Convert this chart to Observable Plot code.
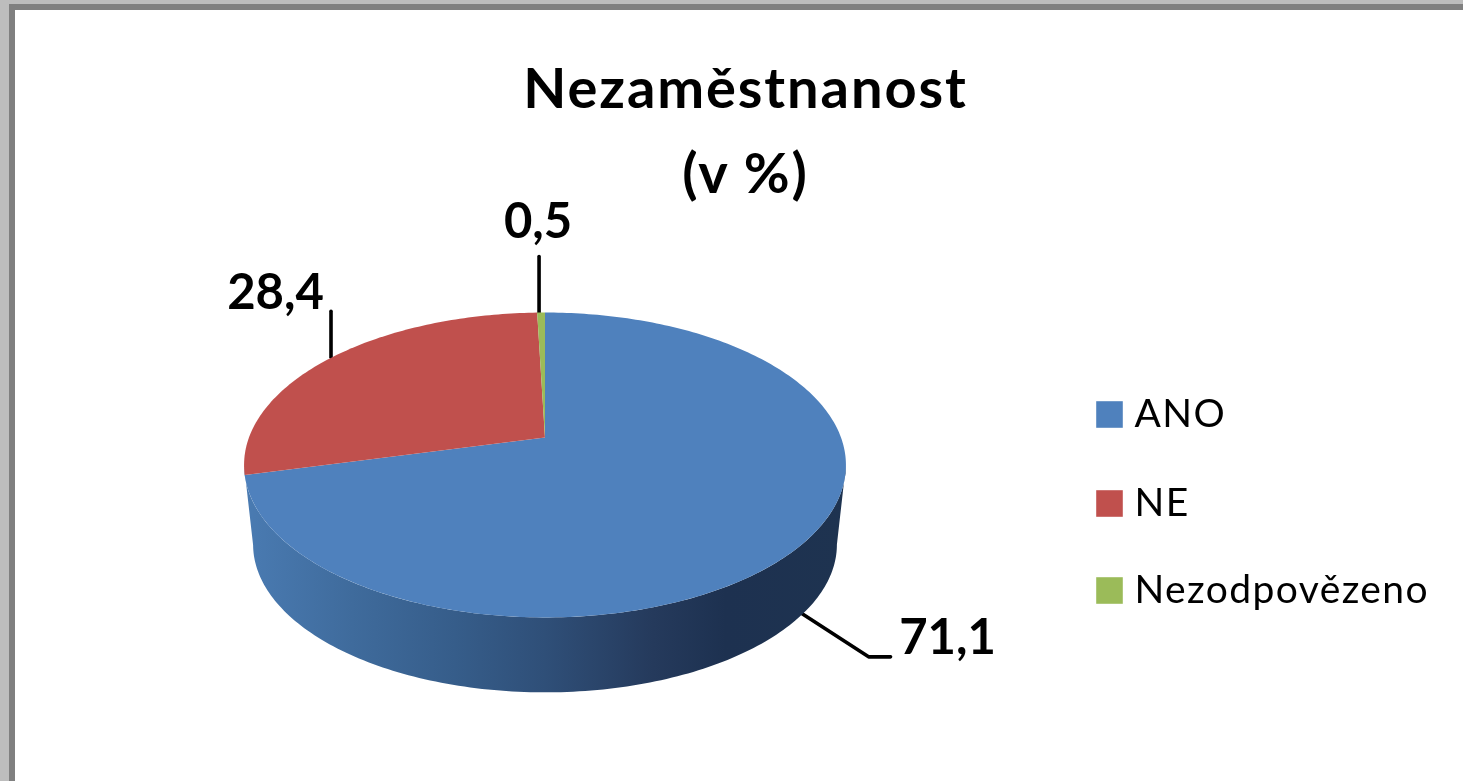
<!DOCTYPE html>
<html lang="cs">
<head>
<meta charset="utf-8">
<script src="https://cdn.jsdelivr.net/npm/d3@7"></script>
<script src="https://cdn.jsdelivr.net/npm/@observablehq/plot@0.6"></script>
<style>
  html, body { margin: 0; padding: 0; background: #bdbdbd; overflow: hidden; }
  #frame { position: absolute; left: 9px; top: 4px; right: 0; bottom: 0; background: #fff;
           border-left: 6px solid #808080; border-top: 6px solid #808080; }
  #chart { position: absolute; left: 0; top: 0; }
  #chart svg { display: block; filter: blur(0.7px); }
  .chart-title text { letter-spacing: 1.9px; }
  .legend-label text { letter-spacing: 1.4px; }
</style>
</head>
<body>
<div id="frame"></div>
<div id="chart"></div>
<script>
// Data
const categories = ["ANO", "NE", "Nezodpovězeno"];
const shares = [71.1, 28.4, 0.5];
const colors = ["#4f81bd", "#c0504d", "#9bbb59"];
const chartTitle = ["Nezaměstnanost", "(v %)"];

// Pie projection (tilted disc with perspective)
const W = 1463, H = 781;
const cx = 544.5, apexY = 437, persp = 0.1803, tiltA = -68.7, radius = 296;
const depthScale = 0.97, rimCentreY = 464.5, baseCentreY = 544;

const project = (deg) => {
  const t = deg * Math.PI / 180, u = Math.sin(t), v = Math.cos(t), d = 1 + persp * v;
  return { x: cx + radius * u / d, y: (tiltA * v + apexY) / d };
};
const projectBase = (deg) => {
  const p = project(deg);
  return { x: cx + depthScale * (p.x - cx), y: baseCentreY + depthScale * (p.y - rimCentreY) };
};

// Slices, from the shares
let running = 0;
const slices = categories.map((name, i) => {
  const start = running * 3.6;
  running += shares[i];
  return { name, value: shares[i], start, end: running * 3.6, mid: (start + running * 3.6) / 2 };
});
const sliceRows = slices.flatMap((s) => {
  const n = Math.max(2, Math.ceil(s.end - s.start));
  const arc = d3.range(n + 1).map((k) => project(s.start + (s.end - s.start) * k / n));
  return [{ x: cx, y: apexY }, ...arc].map((p) => ({ ...p, name: s.name }));
});

// Visible rim of the disc, between its two widest points
const rimStart = Math.acos(-persp) * 180 / Math.PI, rimEnd = 360 - rimStart;
const rimAngles = d3.range(rimStart, rimEnd + 0.5, 1);
const sideRows = [...rimAngles.map(project), ...rimAngles.slice().reverse().map(projectBase)];

// Value labels with leader lines, relative to the slice's rim midpoint
const labelStyle = [
  { base: true, bend: [[-2, -6], [69, 40], [91, 40]], dx: 148, dy: 21 },
  { base: false, bend: [[-1, 0], [-1, -46]], dx: -56.5, dy: -64 },
  { base: false, bend: [[-2, 0], [-2, -56]], dx: -3, dy: -90 }
];
const anchors = slices.map((s, i) => (labelStyle[i].base ? projectBase : project)(s.mid));
const leaderRows = anchors.flatMap((a, i) =>
  labelStyle[i].bend.map(([dx, dy]) => ({ i, x: a.x + dx, y: a.y + dy })));
const labelRows = anchors.map((a, i) => ({
  x: a.x + labelStyle[i].dx,
  y: a.y + labelStyle[i].dy,
  text: String(slices[i].value).replace(".", ",")
}));

// Legend rows
const legendRows = categories.map((name, i) => ({ name, y: [414, 503, 590][i] }));
const legendX = 1109;

const shade = () => {
  const defs = d3.create("svg:defs");
  const g = defs.append("svg:linearGradient").attr("id", "sideShade");
  [[0, "#4a7bb2"], [0.18, "#3f6b9c"], [0.35, "#365d8a"], [0.5, "#2f4f78"], [0.68, "#253a5c"], [0.8, "#1d3150"], [1, "#1e3350"]]
    .forEach(([o, c]) => g.append("svg:stop").attr("offset", o).attr("stop-color", c));
  return defs.node();
};

const fontFamily = "Lato, 'Open Sans', sans-serif";

const plot = Plot.plot({
  width: W, height: H,
  margin: 0,
  style: { background: "transparent" },
  x: { domain: [0, W], range: [0, W], axis: null },
  y: { domain: [0, H], range: [0, H], axis: null },
  color: { domain: categories, range: colors },
  marks: [
    shade,
    Plot.line(leaderRows, { x: "x", y: "y", z: "i", stroke: "#000", strokeWidth: 3.6, curve: "linear" }),
    Plot.line(sideRows, { x: "x", y: "y", fill: "url(#sideShade)", stroke: "none", curve: "linear" }),
    Plot.line(sliceRows, { x: "x", y: "y", z: "name", fill: "name", stroke: "none", curve: "linear" }),
    Plot.text(labelRows, { x: "x", y: "y", text: "text", lineAnchor: "middle",
      fontSize: 49, fontWeight: 700, fontFamily, fill: "#000" }),
    Plot.text(chartTitle, { x: () => 745, y: (d, i) => [90, 175][i], text: (d) => d, lineAnchor: "middle",
      fontSize: 56, fontWeight: 700, fontFamily, fill: "#000", className: "chart-title" }),
    Plot.dot(legendRows, { x: () => legendX, y: "y", symbol: "square", r: 15, fill: "name", stroke: "none" }),
    Plot.text(legendRows, { x: () => 1134, y: "y", text: "name", textAnchor: "start", lineAnchor: "middle",
      fontSize: 39, fontFamily, fill: "#000", className: "legend-label" })
  ]
});
document.getElementById("chart").append(plot);
</script>
</body>
</html>
